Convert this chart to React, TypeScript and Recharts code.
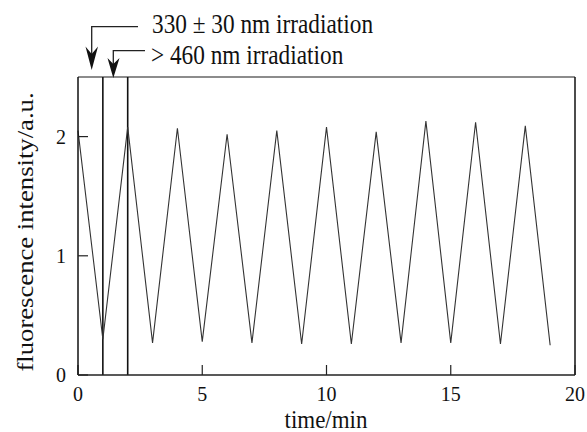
import React from 'react';
import { LineChart, Line, XAxis, YAxis, ReferenceLine } from 'recharts';

const times = [0, 1, 2, 3, 4, 5, 6, 7, 8, 9, 10, 11, 12, 13, 14, 15, 16, 17, 18, 19];
const intensity = [2.05, 0.3, 2.08, 0.27, 2.07, 0.28, 2.02, 0.27, 2.05, 0.26, 2.08, 0.26, 2.04, 0.27, 2.13, 0.27, 2.12, 0.26, 2.09, 0.25];
const xTicks = [0, 5, 10, 15, 20];
const yTicks = [0, 1, 2];
const irradiationMarks = [1, 2];
const annotations = ['330 ± 30 nm irradiation', '> 460 nm irradiation'];
const xTitle = 'time/min';
const yTitle = 'fluorescence intensity/a.u.';

const data = times.map((t, i) => ({ t, v: intensity[i] }));

const FONT = '"Liberation Serif", "Times New Roman", serif';

export default function App() {
  return (
    <div style={{ position: 'absolute', left: 0, top: 0, width: 587, height: 432, background: '#fff' }}>
      <LineChart
        width={587}
        height={432}
        data={data}
        margin={{ top: 77, right: 12, bottom: 0, left: 0 }}
      >
        <XAxis
          dataKey="t"
          type="number"
          domain={[0, 20]}
          ticks={xTicks}
          height={57}
          axisLine={{ stroke: '#222', strokeWidth: 1.5 }}
          tickLine={{ stroke: '#222', strokeWidth: 1.2 }}
          tickSize={-10}
          tickMargin={22}
          tick={{ fill: '#111', fontSize: 20, fontFamily: FONT }}
          interval={0}
        />
        <YAxis
          type="number"
          domain={[0, 2.5]}
          ticks={yTicks}
          width={78}
          axisLine={{ stroke: '#111', strokeWidth: 1.5 }}
          tickLine={{ stroke: '#222', strokeWidth: 1.2 }}
          tickSize={-10}
          tickMargin={22}
          tick={{ fill: '#111', fontSize: 20, fontFamily: FONT }}
          interval={0}
          allowDataOverflow
        />
        <ReferenceLine y={2.5} stroke="#666" strokeWidth={1.5} ifOverflow="visible" />
        <ReferenceLine x={20} stroke="#111" strokeWidth={1.5} ifOverflow="visible" />
        {irradiationMarks.map((m) => (
          <ReferenceLine key={m} x={m} stroke="#111" strokeWidth={1.6} />
        ))}
        <Line
          dataKey="v"
          stroke="#333"
          strokeWidth={1.1}
          dot={false}
          isAnimationActive={false}
          type="linear"
        />
      </LineChart>
      <svg
        width={587}
        height={432}
        style={{ position: 'absolute', left: 0, top: 0, pointerEvents: 'none' }}
      >
        <text
          x={0}
          y={0}
          transform="translate(33,232) rotate(-90) scale(1.16,1)"
          textAnchor="middle"
          fontFamily={FONT}
          fontSize={23}
          fill="#111"
        >
          {yTitle}
        </text>
        <text
          x={0}
          y={0}
          transform="translate(326,428) scale(1,1.12)"
          textAnchor="middle"
          fontFamily={FONT}
          fontSize={23}
          fill="#111"
        >
          {xTitle}
        </text>
        {/* arrow 1 */}
        <polyline points="138,26.7 91.7,26.7 91.7,56" fill="none" stroke="#222" strokeWidth={1.3} />
        <path d="M91.7,70 L85.5,46.5 L91.7,54 L98,46.5 Z" fill="#111" />
        <text x={0} y={0} transform="translate(152,33) scale(1,1.15)" fontFamily={FONT} fontSize={23.3} fill="#111">
          {annotations[0]}
        </text>
        {/* arrow 2 */}
        <polyline points="145,50.7 113.3,50.7 113.3,66" fill="none" stroke="#222" strokeWidth={1.3} />
        <path d="M113.3,78 L107.5,58 L113.3,64 L119.5,58 Z" fill="#111" />
        <text x={0} y={0} transform="translate(151,63.5) scale(1,1.15)" fontFamily={FONT} fontSize={23.3} fill="#111">
          {annotations[1]}
        </text>
      </svg>
    </div>
  );
}
